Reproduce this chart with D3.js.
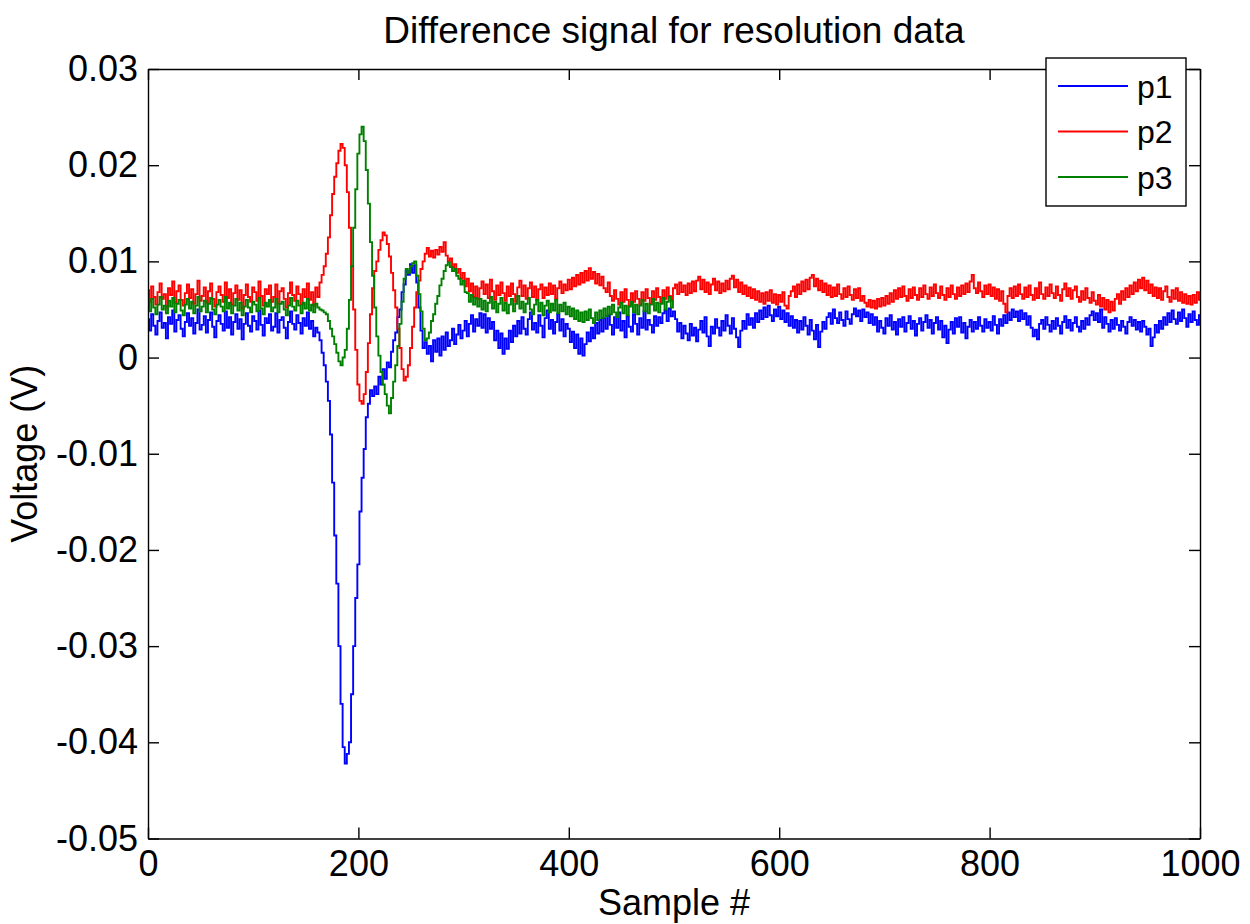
<!DOCTYPE html>
<html>
<head>
<meta charset="utf-8">
<script src="https://cdn.jsdelivr.net/npm/d3@7"></script>
<style>
  body { margin: 0; background: #fff; }
  svg text { font-family: "Liberation Sans", Arial, sans-serif; }
</style>
</head>
<body>
<svg id="chart" width="1250" height="924"></svg>
<script>
// samples are read every 2nd sample, values stored in units of 0.1 mV
const sampleStep = 2;
const unit = 1e-4;

const seriesNames = ["p1", "p2", "p3"];
const seriesColors = ["#0000ff", "#ff0000", "#008000"];
const xTicks = [0, 200, 400, 600, 800, 1000];
const yTicks = [-0.05, -0.04, -0.03, -0.02, -0.01, 0, 0.01, 0.02, 0.03];

const p1 = [
  40,28,45,33,24,38,47,31,36,20, 42,35,49,27,39,44,30,22,37,46,
  33,41,25,36,50,29,34,43,26,39, 47,32,21,38,44,35,28,48,31,42,
  24,37,45,30,40,19,35,46,33,27, 43,38,29,49,34,23,41,36,45,28,
  32,46,26,39,42,31,20,37,48,35, 29,44,36,25,41,33,47,30,38,22,
  31,26,18,5,-8,-25,-45,-80,-130,-185, -235,-300,-360,-405,-422,-412,-400,-350,-300,-250,
  -215,-160,-125,-95,-62,-48,-34,-40,-30,-38, -20,-28,-12,-22,-5,-10,6,18,26,42,
  50,68,76,90,86,97,88,96,78,52, 28,10,16,4,12,-4,18,6,20,2,
  22,8,26,12,18,30,14,24,34,20, 28,38,22,35,44,27,40,33,46,31,
  45,26,41,30,37,18,28,10,25,4, 20,9,28,16,33,22,38,25,42,30,
  24,40,47,29,36,26,44,33,21,41, 49,30,39,25,37,45,28,40,22,35,
  30,16,27,10,24,4,20,2,14,26, 17,31,20,36,25,39,27,41,30,44,
  34,24,42,31,47,28,38,21,43,32, 27,45,35,24,41,31,48,29,39,34,
  26,43,33,42,36,46,49,38,51,43, 48,40,27,36,20,33,25,18,35,23,
  31,17,29,38,26,42,22,12,32,25, 40,31,23,38,28,44,33,25,41,30,
  21,11,28,38,30,45,34,41,31,46, 37,49,40,52,42,54,44,38,50,43,
  53,40,49,37,46,33,43,31,39,26, 38,29,42,33,24,39,28,19,34,11,
  27,37,30,42,46,35,50,41,36,47, 39,33,48,40,35,45,51,43,49,38,
  50,42,47,36,45,34,42,27,38,31, 25,41,33,44,29,37,24,40,32,42,
  27,36,43,30,38,23,35,41,28,37, 44,31,39,25,36,42,29,38,21,33,
  15,29,37,25,41,32,42,26,36,20, 32,39,27,37,30,42,33,27,40,31,
  37,28,43,34,25,40,33,44,36,47, 39,50,42,48,38,49,40,46,34,43,
  31,22,29,19,35,39,30,42,34,27, 38,30,41,33,25,37,43,31,39,28,
  36,42,32,27,38,30,41,34,44,48, 39,46,37,50,31,42,35,27,39,30,
  41,34,28,38,32,25,37,42,33,39, 29,37,27,38,32,24,30,12,21,34,
  26,38,30,42,34,46,37,49,40,35, 47,38,50,41,32,45,37,48,39,34,
  44
];

const p2 = [
  70,58,74,63,55,68,77,61,66,52, 72,65,79,57,69,75,60,54,67,76,
  62,71,56,66,80,59,64,73,57,69, 77,61,53,68,74,65,58,78,62,71,
  55,67,75,60,70,51,65,76,63,58, 73,68,59,79,64,54,71,66,75,58,
  63,76,56,69,72,61,52,67,78,65, 59,74,66,55,71,63,77,60,68,54,
  73,63,78,86,95,108,125,148,170,188, 202,215,222,218,200,172,135,95,50,8,
  -28,-45,-48,-38,-15,15,45,72,90,100, 112,122,130,127,118,105,88,70,52,30,
  10,-12,-24,-20,-8,10,32,52,68,80, 92,100,108,114,105,111,104,112,107,115,
  110,120,106,100,103,94,97,88,92,82, 88,74,82,69,77,63,74,61,72,79,
  66,76,62,81,69,60,75,65,78,67, 59,74,64,77,66,58,73,80,64,75,
  61,72,78,63,74,60,71,76,62,73, 65,77,66,75,61,72,79,67,76,70,
  81,71,83,74,86,76,88,78,90,80, 93,82,89,77,87,75,84,72,68,78,
  64,59,70,61,55,68,58,71,60,54, 67,58,69,61,55,68,59,71,62,56,
  69,60,72,63,57,70,61,73,64,59, 72,76,66,78,68,75,65,77,67,79,
  69,80,84,71,81,68,78,66,76,82, 70,79,67,77,69,80,71,82,85,73,
  81,68,78,66,75,64,73,62,71,60, 69,58,67,56,68,59,70,57,66,55,
  65,58,68,54,51,64,69,74,63,76, 66,79,69,81,71,83,86,74,82,70,
  80,68,77,65,75,63,73,64,76,66, 61,72,63,74,65,60,71,62,72,59,
  64,57,53,60,52,59,51,61,53,62, 54,64,56,67,58,70,61,72,63,74,
  64,59,71,62,73,65,60,72,63,75, 66,61,73,64,76,67,62,74,65,60,
  72,63,75,66,61,73,64,75,66,77, 68,79,86,72,67,78,69,63,75,66,
  76,64,73,61,71,59,69,56,47,64, 72,62,74,64,76,66,61,73,63,75,
  65,60,72,62,78,66,61,73,64,76, 67,62,74,65,59,71,77,64,72,61,
  70,74,63,58,69,60,72,62,57,68, 59,55,65,53,62,50,60,47,58,49,
  61,66,56,69,60,72,63,75,66,78, 69,81,72,83,70,80,67,76,64,73,
  62,72,60,69,74,63,58,70,61,72, 59,68,57,66,56,64,55,65,57,68,
  60
];

// p3 only runs to sample 500
const p3 = [
  57,48,61,52,45,55,63,50,54,46, 59,53,62,47,56,60,49,44,55,61,
  51,58,46,54,63,48,53,59,47,56, 62,50,45,55,60,53,48,63,51,57,
  46,54,61,49,57,44,53,60,52,47, 58,55,48,62,51,45,57,53,60,48,
  52,61,47,56,58,50,44,54,62,53, 49,59,54,46,57,51,61,49,55,47,
  56,52,50,49,47,45,38,30,22,14, 5,-4,-8,0,8,30,60,95,135,175,
  212,232,240,225,195,160,120,85,52,22, 2,-15,-28,-38,-50,-58,-42,-25,-8,12,
  35,58,82,92,88,95,98,100,85,66, 48,30,18,20,26,38,45,56,64,75,
  82,90,96,99,94,90,92,85,82,76, 80,68,67,58,65,55,62,53,61,50,
  59,48,57,63,51,58,47,56,62,49, 57,46,55,61,48,56,64,51,58,47,
  56,62,50,45,55,60,48,57,44,54, 59,47,56,49,60,46,55,48,57,45,
  53,43,51,40,49,38,47,37,48,39, 50,41,36,47,39,49,41,51,43,53,
  45,55,47,42,52,57,46,54,44,53, 58,47,55,45,54,60,48,56,46,55,
  61,49,57,47,56,62,50,58,63,52, 59
];

const series = [p1, p2, p3];

const plotLeft = 148, plotRight = 1200, plotTop = 69, plotBottom = 838.5;
const tickLen = 11;

const svg = d3.select("#chart");

const x = d3.scaleLinear().domain([0, 1000]).range([plotLeft, plotRight]);
const y = d3.scaleLinear().domain([-0.05, 0.03]).range([plotBottom, plotTop]);

svg.append("clipPath").attr("id", "plotArea")
  .append("rect")
  .attr("x", plotLeft).attr("y", plotTop)
  .attr("width", plotRight - plotLeft).attr("height", plotBottom - plotTop);

// signal lines, stepped like the low-res original; plot order keeps p3 on top
const line = d3.line()
  .curve(d3.curveStep)
  .x(d => x(d[0]))
  .y(d => y(d[1]));

const lines = svg.append("g").attr("clip-path", "url(#plotArea)");
series.forEach((s, k) => {
  lines.append("path")
    .datum(s.map((v, i) => [i * sampleStep, v * unit]))
    .attr("fill", "none")
    .attr("stroke", seriesColors[k])
    .attr("stroke-width", 1.9)
    .attr("d", line);
});

// matlab style box: ticks inside on all four sides
const yFormat = d => Math.abs(d) < 1e-9 ? "0" : d.toFixed(2);

function styleAxis(g) {
  g.attr("color", "#000")
    .attr("font-family", "'Liberation Sans', Arial, sans-serif")
    .attr("font-size", 36);
  g.selectAll("path, line").attr("stroke-width", 1.4);
  g.selectAll("text").attr("fill", "#000");
}

svg.append("g")
  .attr("transform", "translate(0," + plotBottom + ")")
  .call(d3.axisBottom(x).tickValues(xTicks).tickFormat(d3.format("d")).tickSizeInner(-tickLen).tickSizeOuter(0).tickPadding(12))
  .call(styleAxis);

svg.append("g")
  .attr("transform", "translate(" + plotLeft + ",0)")
  .call(d3.axisLeft(y).tickValues(yTicks).tickFormat(yFormat).tickSizeInner(-tickLen).tickSizeOuter(0).tickPadding(10))
  .call(styleAxis);

svg.append("g")
  .attr("transform", "translate(0," + plotTop + ")")
  .call(d3.axisTop(x).tickValues(xTicks).tickFormat(() => "").tickSizeInner(-tickLen).tickSizeOuter(0))
  .call(styleAxis);

svg.append("g")
  .attr("transform", "translate(" + plotRight + ",0)")
  .call(d3.axisRight(y).tickValues(yTicks).tickFormat(() => "").tickSizeInner(-tickLen).tickSizeOuter(0))
  .call(styleAxis);

// title and axis labels
svg.append("text")
  .attr("x", (plotLeft + plotRight) / 2)
  .attr("y", 43)
  .attr("text-anchor", "middle")
  .attr("font-size", 37)
  .text("Difference signal for resolution data");

svg.append("text")
  .attr("x", (plotLeft + plotRight) / 2)
  .attr("y", 915)
  .attr("text-anchor", "middle")
  .attr("font-size", 36)
  .text("Sample #");

svg.append("text")
  .attr("transform", "translate(37," + ((plotTop + plotBottom) / 2) + ") rotate(-90)")
  .attr("text-anchor", "middle")
  .attr("font-size", 36)
  .text("Voltage (V)");

// legend
const legend = svg.append("g");
legend.append("rect")
  .attr("x", 1046).attr("y", 58)
  .attr("width", 140).attr("height", 148)
  .attr("fill", "#fff")
  .attr("stroke", "#000")
  .attr("stroke-width", 1.4);

seriesNames.forEach((name, k) => {
  const ly = 86 + k * 45.5;
  legend.append("line")
    .attr("x1", 1058).attr("x2", 1128)
    .attr("y1", ly).attr("y2", ly)
    .attr("stroke", seriesColors[k])
    .attr("stroke-width", 1.8);
  legend.append("text")
    .attr("x", 1137)
    .attr("y", ly + 11.5)
    .attr("font-size", 32)
    .text(name);
});
</script>
</body>
</html>
